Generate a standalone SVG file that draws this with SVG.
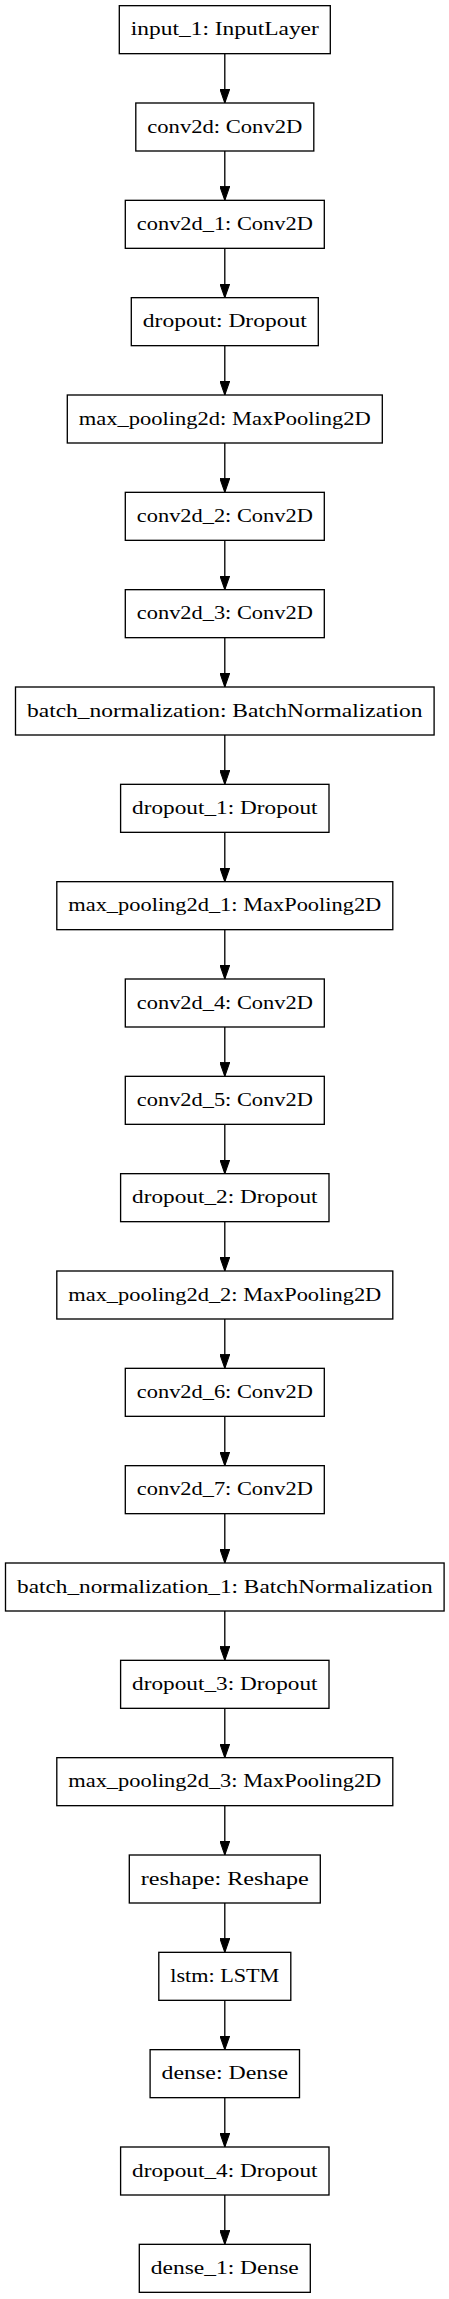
<svg xmlns="http://www.w3.org/2000/svg" width="449" height="2299" viewBox="0 0 449 2299">
<style>
.n rect{fill:#fff;stroke:#000;stroke-width:1.33}
.n text{font-family:"Liberation Serif","Times New Roman",serif;font-size:18.67px;text-anchor:middle;fill:#000}
#edges path{stroke:#000;stroke-width:1.33;fill:none;marker-end:url(#ah)}
</style>
<defs>
<marker id="ah" markerUnits="userSpaceOnUse" markerWidth="14" markerHeight="10" viewBox="0 0 13.33 9.33" refX="13.33" refY="4.67" orient="auto">
<path d="M0,0 L13.33,4.67 L0,9.33 z" fill="#000" stroke="#000" stroke-width="1"/>
</marker>
</defs>
<rect width="449" height="2299" fill="#fff"/>
<g id="edges">
<path d="M224.8,53.67 V103"/>
<path d="M224.8,151 V200.33"/>
<path d="M224.8,248.33 V297.67"/>
<path d="M224.8,345.67 V395"/>
<path d="M224.8,443 V492.33"/>
<path d="M224.8,540.33 V589.67"/>
<path d="M224.8,637.67 V687"/>
<path d="M224.8,735 V784.33"/>
<path d="M224.8,832.33 V881.67"/>
<path d="M224.8,929.67 V979"/>
<path d="M224.8,1027 V1076.33"/>
<path d="M224.8,1124.33 V1173.67"/>
<path d="M224.8,1221.67 V1271"/>
<path d="M224.8,1319 V1368.33"/>
<path d="M224.8,1416.33 V1465.67"/>
<path d="M224.8,1513.67 V1563"/>
<path d="M224.8,1611 V1660.33"/>
<path d="M224.8,1708.33 V1757.67"/>
<path d="M224.8,1805.67 V1855"/>
<path d="M224.8,1903 V1952.33"/>
<path d="M224.8,2000.33 V2049.67"/>
<path d="M224.8,2097.67 V2147"/>
<path d="M224.8,2195 V2244.33"/>
</g>
<g id="input_1" class="n" transform="translate(224.8,5.67)"><rect x="-105.5" y="0" width="211" height="48"/><text y="29.5" textLength="188" lengthAdjust="spacingAndGlyphs">input_1: InputLayer</text></g>
<g id="conv2d" class="n" transform="translate(224.8,103)"><rect x="-89" y="0" width="178" height="48"/><text y="29.5" textLength="155" lengthAdjust="spacingAndGlyphs">conv2d: Conv2D</text></g>
<g id="conv2d_1" class="n" transform="translate(224.8,200.33)"><rect x="-99.5" y="0" width="199" height="48"/><text y="29.5" textLength="176" lengthAdjust="spacingAndGlyphs">conv2d_1: Conv2D</text></g>
<g id="dropout" class="n" transform="translate(224.8,297.67)"><rect x="-93.5" y="0" width="187" height="48"/><text y="29.5" textLength="164" lengthAdjust="spacingAndGlyphs">dropout: Dropout</text></g>
<g id="max_pooling2d" class="n" transform="translate(224.8,395)"><rect x="-157.5" y="0" width="315" height="48"/><text y="29.5" textLength="292" lengthAdjust="spacingAndGlyphs">max_pooling2d: MaxPooling2D</text></g>
<g id="conv2d_2" class="n" transform="translate(224.8,492.33)"><rect x="-99.5" y="0" width="199" height="48"/><text y="29.5" textLength="176" lengthAdjust="spacingAndGlyphs">conv2d_2: Conv2D</text></g>
<g id="conv2d_3" class="n" transform="translate(224.8,589.67)"><rect x="-99.5" y="0" width="199" height="48"/><text y="29.5" textLength="176" lengthAdjust="spacingAndGlyphs">conv2d_3: Conv2D</text></g>
<g id="batch_normalization" class="n" transform="translate(224.8,687)"><rect x="-209.3" y="0" width="418.6" height="48"/><text y="29.5" textLength="395.6" lengthAdjust="spacingAndGlyphs">batch_normalization: BatchNormalization</text></g>
<g id="dropout_1" class="n" transform="translate(224.8,784.33)"><rect x="-104.2" y="0" width="208.4" height="48"/><text y="29.5" textLength="185.4" lengthAdjust="spacingAndGlyphs">dropout_1: Dropout</text></g>
<g id="max_pooling2d_1" class="n" transform="translate(224.8,881.67)"><rect x="-168" y="0" width="336" height="48"/><text y="29.5" textLength="313" lengthAdjust="spacingAndGlyphs">max_pooling2d_1: MaxPooling2D</text></g>
<g id="conv2d_4" class="n" transform="translate(224.8,979)"><rect x="-99.5" y="0" width="199" height="48"/><text y="29.5" textLength="176" lengthAdjust="spacingAndGlyphs">conv2d_4: Conv2D</text></g>
<g id="conv2d_5" class="n" transform="translate(224.8,1076.33)"><rect x="-99.5" y="0" width="199" height="48"/><text y="29.5" textLength="176" lengthAdjust="spacingAndGlyphs">conv2d_5: Conv2D</text></g>
<g id="dropout_2" class="n" transform="translate(224.8,1173.67)"><rect x="-104.2" y="0" width="208.4" height="48"/><text y="29.5" textLength="185.4" lengthAdjust="spacingAndGlyphs">dropout_2: Dropout</text></g>
<g id="max_pooling2d_2" class="n" transform="translate(224.8,1271)"><rect x="-168" y="0" width="336" height="48"/><text y="29.5" textLength="313" lengthAdjust="spacingAndGlyphs">max_pooling2d_2: MaxPooling2D</text></g>
<g id="conv2d_6" class="n" transform="translate(224.8,1368.33)"><rect x="-99.5" y="0" width="199" height="48"/><text y="29.5" textLength="176" lengthAdjust="spacingAndGlyphs">conv2d_6: Conv2D</text></g>
<g id="conv2d_7" class="n" transform="translate(224.8,1465.67)"><rect x="-99.5" y="0" width="199" height="48"/><text y="29.5" textLength="176" lengthAdjust="spacingAndGlyphs">conv2d_7: Conv2D</text></g>
<g id="batch_normalization_1" class="n" transform="translate(224.8,1563)"><rect x="-219.3" y="0" width="438.6" height="48"/><text y="29.5" textLength="415.6" lengthAdjust="spacingAndGlyphs">batch_normalization_1: BatchNormalization</text></g>
<g id="dropout_3" class="n" transform="translate(224.8,1660.33)"><rect x="-104.2" y="0" width="208.4" height="48"/><text y="29.5" textLength="185.4" lengthAdjust="spacingAndGlyphs">dropout_3: Dropout</text></g>
<g id="max_pooling2d_3" class="n" transform="translate(224.8,1757.67)"><rect x="-168" y="0" width="336" height="48"/><text y="29.5" textLength="313" lengthAdjust="spacingAndGlyphs">max_pooling2d_3: MaxPooling2D</text></g>
<g id="reshape" class="n" transform="translate(224.8,1855)"><rect x="-95.5" y="0" width="191" height="48"/><text y="29.5" textLength="168" lengthAdjust="spacingAndGlyphs">reshape: Reshape</text></g>
<g id="lstm" class="n" transform="translate(224.8,1952.33)"><rect x="-66" y="0" width="132" height="48"/><text y="29.5" textLength="109" lengthAdjust="spacingAndGlyphs">lstm: LSTM</text></g>
<g id="dense" class="n" transform="translate(224.8,2049.67)"><rect x="-74.7" y="0" width="149.4" height="48"/><text y="29.5" textLength="126.4" lengthAdjust="spacingAndGlyphs">dense: Dense</text></g>
<g id="dropout_4" class="n" transform="translate(224.8,2147)"><rect x="-104.2" y="0" width="208.4" height="48"/><text y="29.5" textLength="185.4" lengthAdjust="spacingAndGlyphs">dropout_4: Dropout</text></g>
<g id="dense_1" class="n" transform="translate(224.8,2244.33)"><rect x="-85.5" y="0" width="171" height="48"/><text y="29.5" textLength="148" lengthAdjust="spacingAndGlyphs">dense_1: Dense</text></g>
</svg>
